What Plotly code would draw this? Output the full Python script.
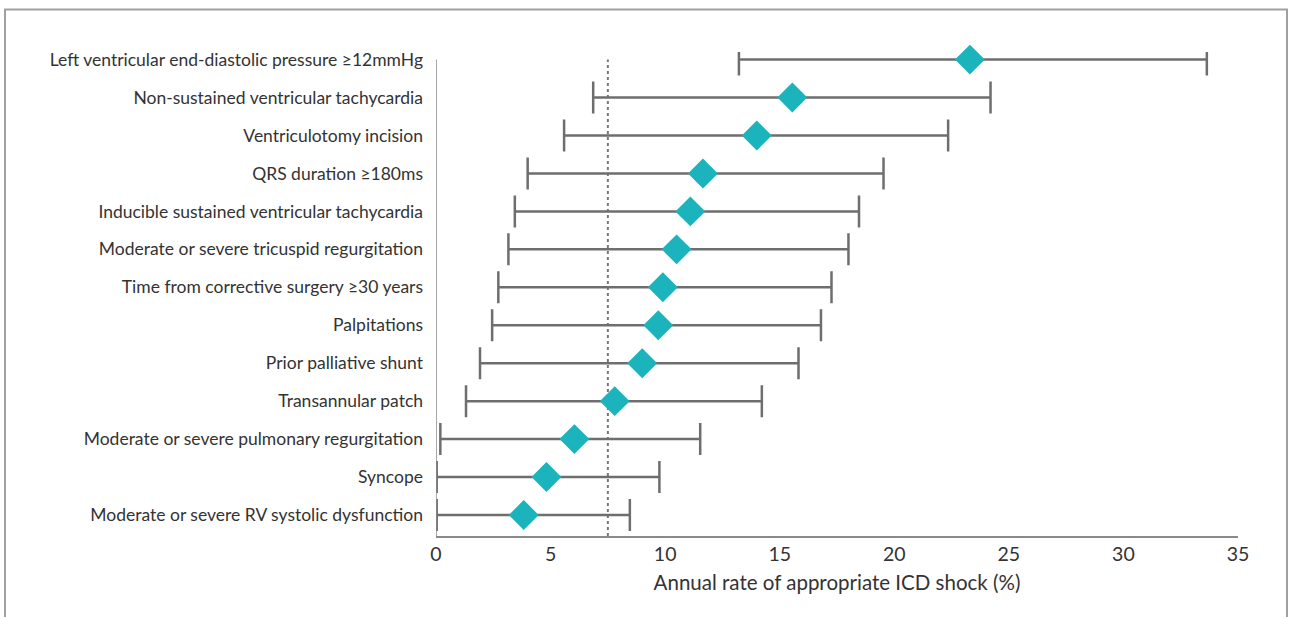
import plotly.graph_objects as go

labels = [
    "Left ventricular end-diastolic pressure ≥12mmHg",
    "Non-sustained ventricular tachycardia",
    "Ventriculotomy incision",
    "QRS duration ≥180ms",
    "Inducible sustained ventricular tachycardia",
    "Moderate or severe tricuspid regurgitation",
    "Time from corrective surgery ≥30 years",
    "Palpitations",
    "Prior palliative shunt",
    "Transannular patch",
    "Moderate or severe pulmonary regurgitation",
    "Syncope",
    "Moderate or severe RV systolic dysfunction",
]
rate = [23.3, 15.55, 14.0, 11.65, 11.1, 10.5, 9.9, 9.7, 9.0, 7.8, 6.04, 4.82, 3.83]
lower = [13.22, 6.86, 5.59, 4.0, 3.44, 3.16, 2.72, 2.45, 1.92, 1.31, 0.19, 0.03, 0.03]
upper = [33.64, 24.2, 22.35, 19.53, 18.46, 18.0, 17.26, 16.8, 15.82, 14.22, 11.53, 9.75, 8.46]
reference_rate = 7.5
x_ticks = [0, 5, 10, 15, 20, 25, 30, 35]
x_title = "Annual rate of appropriate ICD shock (%)"

n = len(labels)
ypos = [n - 1 - i for i in range(n)]
err_plus = [u - r for u, r in zip(upper, rate)]
err_minus = [r - l for r, l in zip(rate, lower)]

FONT = "Lato"
GRAY = "#6e6e6e"
TEAL = "#1BB3BC"
TEXT = "#333333"

fig = go.Figure()
fig.add_trace(go.Scatter(
    x=rate, y=ypos, mode="markers",
    marker=dict(symbol="diamond", size=23, color=TEAL, line=dict(width=0)),
    error_x=dict(type="data", symmetric=False, array=err_plus, arrayminus=err_minus,
                 color=GRAY, thickness=2.5, width=16),
    cliponaxis=False, showlegend=False, hoverinfo="skip",
))

ymin, ymax = -0.553, 12.2

# reference dotted line
fig.add_shape(type="line", xref="x", yref="y", x0=reference_rate, x1=reference_rate,
              y0=ymin, y1=n - 1, line=dict(color="#777777", width=2, dash="dot"), layer="below")
# y axis line
fig.add_shape(type="line", xref="x", yref="y", x0=0, x1=0, y0=ymin, y1=n - 1,
              line=dict(color="#8a8a8a", width=1.5), layer="above")
# outer frame (top, left, right)
W, H = 1290, 617
L, R, T, B = 436, 52, 52.4, 80.5
pw, ph = W - L - R, H - T - B
fig.add_shape(type="rect", xref="paper", yref="paper",
              x0=(5 - L) / pw, x1=(1287 - L) / pw,
              y0=-0.3, y1=(H - B - 10) / ph,
              line=dict(color="#a0a0a0", width=2), fillcolor="rgba(0,0,0,0)", layer="below")

fig.update_layout(
    width=W, height=H,
    margin=dict(l=L, r=R, t=T, b=B),
    plot_bgcolor="white", paper_bgcolor="white",
    font=dict(family=FONT, color=TEXT, size=17.5),
    xaxis=dict(range=[0, 35], tickvals=x_ticks, ticktext=[str(t) for t in x_ticks],
               showgrid=False, zeroline=False, showline=True, linecolor="#8a8a8a", linewidth=1.5,
               ticks="", ticklabelstandoff=0, tickfont=dict(size=19.5, family=FONT, color=TEXT),
               title=dict(text=x_title, font=dict(size=20.5, family=FONT, color=TEXT), standoff=11)),
    yaxis=dict(range=[ymin, ymax], tickvals=ypos, ticktext=labels,
               showgrid=False, zeroline=False, showline=False, ticks="",
               ticklabelstandoff=12, tickfont=dict(size=17.5, family=FONT, color=TEXT)),
)

fig.write_html("out.html", config={"displayModeBar": False},
               post_script="document.body.style.margin='0';document.body.style.overflow='hidden';")
